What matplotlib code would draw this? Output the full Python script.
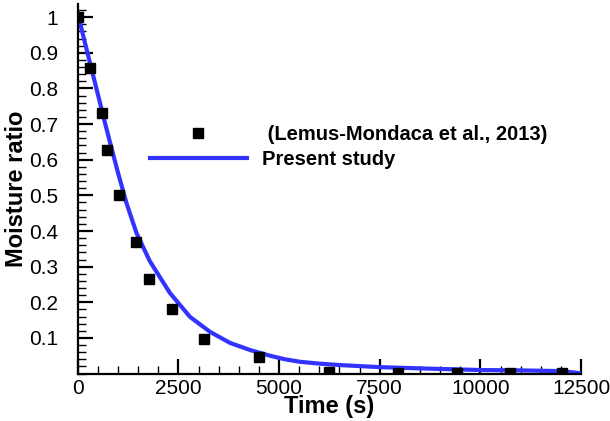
import matplotlib
matplotlib.use("Agg")
import matplotlib.pyplot as plt
from matplotlib.ticker import MultipleLocator

# experimental points (Lemus-Mondaca et al., 2013)
exp_time = [0, 300, 600, 730, 1020, 1440, 1780, 2340, 3140, 4510, 6250, 7960, 9410, 10730, 12030]
exp_mr = [1.0, 0.857, 0.732, 0.628, 0.502, 0.370, 0.266, 0.181, 0.096, 0.047, 0.004, 0.003, 0.002, 0.002, 0.002]

# present study curve
sim_time = [0, 57, 182, 306, 431, 555, 680, 822, 1004, 1212, 1461, 1793, 2083, 2291, 2789,
            3287, 3785, 4283, 4781, 5150, 5528, 6000, 6500, 7520, 8700, 10010, 11000, 12000, 12500]
sim_mr = [1.0, 0.984, 0.927, 0.871, 0.815, 0.759, 0.702, 0.640, 0.562, 0.478, 0.394, 0.315, 0.263, 0.226, 0.159,
          0.117, 0.086, 0.066, 0.050, 0.040, 0.033, 0.028, 0.024, 0.018, 0.014, 0.010, 0.009, 0.007, 0.001]

y_ticks = [0.1, 0.2, 0.3, 0.4, 0.5, 0.6, 0.7, 0.8, 0.9, 1.0]
y_tick_labels = ["0.1", "0.2", "0.3", "0.4", "0.5", "0.6", "0.7", "0.8", "0.9", "1"]
x_ticks = [0, 2500, 5000, 7500, 10000, 12500]

plt.rcParams["font.family"] = ["Liberation Sans", "DejaVu Sans"]

fig = plt.figure(figsize=(6.1, 4.21), dpi=100)
ax = fig.add_axes([0.1274, 0.1126, 0.8252, 0.878])

pts, = ax.plot(exp_time, exp_mr, "s", color="black", markersize=6.5, linestyle="none",
               label=" (Lemus-Mondaca et al., 2013)", zorder=3)
line, = ax.plot(sim_time, sim_mr, color="#3333ff", linewidth=3, label="Present study", zorder=2)

ax.set_xlim(0, 12500)
ax.set_ylim(0, 1.037)
ax.set_xticks(x_ticks)
ax.set_yticks(y_ticks)
ax.set_yticklabels(y_tick_labels)
ax.xaxis.set_minor_locator(MultipleLocator(500))
ax.yaxis.set_minor_locator(MultipleLocator(0.02))

for side in ("top", "right"):
    ax.spines[side].set_visible(False)
for side in ("left", "bottom"):
    ax.spines[side].set_linewidth(1.6)

ax.tick_params(which="major", direction="in", length=11, width=1.6, labelsize=15)
ax.tick_params(which="minor", direction="in", length=6, width=1.0)
ax.tick_params(axis="x", which="major", pad=4)
ax.tick_params(axis="y", which="major", pad=14)

ax.set_xlabel("Time (s)", fontsize=17, fontweight="bold", labelpad=-2)
ax.set_ylabel("Moisture ratio", fontsize=17, fontweight="bold", labelpad=1)

ax.legend(handles=[pts, line], loc="upper left", bbox_to_anchor=(150 / 610, 1 - 125 / 421),
          bbox_transform=fig.transFigure, frameon=False, borderpad=0, borderaxespad=0,
          handlelength=4.8, handletextpad=0.75, labelspacing=0.3,
          prop={"size": 14.5, "weight": "bold"})

fig.savefig("out.png", dpi=100)
